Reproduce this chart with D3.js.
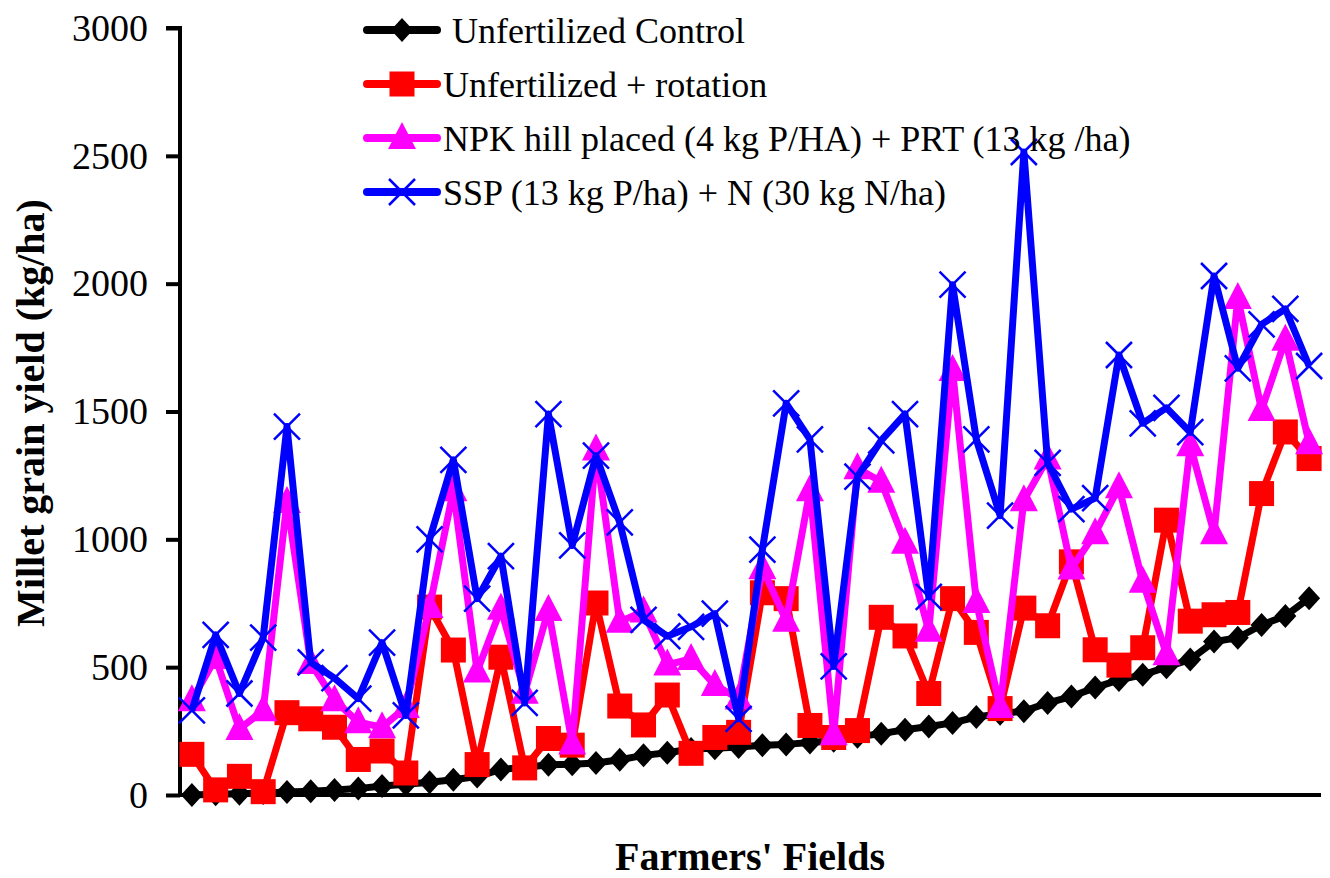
<!DOCTYPE html>
<html>
<head>
<meta charset="utf-8">
<script src="https://cdn.jsdelivr.net/npm/d3@7"></script>
<style>
  html, body { margin: 0; padding: 0; background: #fff; }
  svg { display: block; }
  text { font-family: "Liberation Serif", "Times New Roman", serif; fill: #000; }
</style>
</head>
<body>
<svg id="chart" width="1330" height="878"></svg>
<script>
// Millet grain yield (kg/ha) on 48 farmers' fields, four treatments
const fields = d3.range(1, 49);

const control = [0, 3, 5, 8, 12, 15, 20, 25, 35, 42, 50, 60, 72, 100, 108, 118, 120, 125, 138, 155,
  165, 180, 183, 188, 195, 198, 205, 212, 228, 240, 255, 268, 282, 305, 318, 328, 360, 385, 420, 450,
  470, 500, 530, 600, 615, 665, 700, 770];

const rotation = [159, 20, 73, 13, 322, 298, 265, 139, 172, 86, 735, 567, 119, 539, 106, 221, 195, 751, 348, 274,
  391, 163, 225, 245, 791, 768, 272, 225, 252, 695, 622, 397, 768, 636, 338, 731, 662, 912, 568, 508,
  576, 1075, 680, 705, 714, 1179, 1420, 1316];

const npkPrt = [371, 536, 258, 331, 1146, 516, 371, 285, 265, 344, 735, 1192, 483, 728, 400, 724, 201, 1351, 678, 718,
  510, 532, 430, 377, 887, 682, 1192, 238, 1278, 1225, 987, 642, 1662, 755, 344, 1153, 1316, 886, 1024, 1204,
  834, 551, 1368, 1024, 1944, 1506, 1781, 1376];

const sspN = [331, 626, 397, 616, 1441, 519, 457, 377, 596, 311, 1000, 1311, 768, 934, 360, 1490, 976, 1327, 1066, 685,
  621, 658, 709, 298, 960, 1532, 1391, 503, 1245, 1387, 1490, 775, 1996, 1391, 1093, 2515, 1299, 1118, 1161, 1721,
  1454, 1514, 1419, 2030, 1669, 1841, 1901, 1678];

const seriesNames = [
  "\u00a0Unfertilized Control",
  "Unfertilized + rotation",
  "NPK hill placed (4 kg P/HA) + PRT (13 kg /ha)",
  "SSP (13 kg P/ha) + N (30 kg N/ha)"
];
const seriesColors = ["#000000", "#ff0000", "#ff00ff", "#0000ff"];
const seriesMarkers = ["diamond", "square", "triangle", "cross"];
const yTicks = [0, 500, 1000, 1500, 2000, 2500, 3000];

const series = [control, rotation, npkPrt, sspN].map((values, k) => ({
  name: seriesNames[k], color: seriesColors[k], marker: seriesMarkers[k], values
}));

const svg = d3.select("#chart");
const plot = { left: 180, right: 1321, top: 28, bottom: 795 };

const x = d3.scalePoint().domain(fields).range([plot.left, plot.right]).padding(0.5);
const y = d3.scaleLinear().domain([0, 3000]).range([plot.bottom, plot.top]);

// marker drawing
function drawMarker(g, type, color) {
  if (type === "diamond") {
    g.append("path").attr("d", "M0,-12L11,0L0,12L-11,0Z").attr("fill", color);
  } else if (type === "square") {
    g.append("rect").attr("x", -12.5).attr("y", -12.5).attr("width", 25).attr("height", 25).attr("fill", color);
  } else if (type === "triangle") {
    g.append("path").attr("d", "M0,-16L14,11L-14,11Z").attr("fill", color);
  } else if (type === "cross") {
    g.append("path").attr("d", "M-13,-13L13,13M-13,13L13,-13")
      .attr("stroke", color).attr("stroke-width", 2.5).attr("fill", "none");
  }
}

// y axis
const yAxis = d3.axisLeft(y).tickValues(yTicks).tickSize(14).tickPadding(18).tickFormat(d3.format("d"));
const yAxisG = svg.append("g").attr("transform", `translate(${plot.left},0)`).call(yAxis);
yAxisG.select(".domain").attr("stroke", "#000").attr("stroke-width", 4)
  .attr("d", `M-14,${plot.top}H0V${plot.bottom}`);
yAxisG.selectAll(".tick line").attr("stroke", "#000").attr("stroke-width", 4);
yAxisG.selectAll(".tick text").attr("font-size", 38)
  .attr("font-family", "Liberation Serif, Times New Roman, serif").attr("fill", "#000");

// x axis line (no ticks)
svg.append("line")
  .attr("x1", plot.left).attr("x2", plot.right)
  .attr("y1", y(0)).attr("y2", y(0))
  .attr("stroke", "#000").attr("stroke-width", 4);

// series lines and markers
const line = d3.line().x((d, i) => x(fields[i])).y(d => y(d));
series.forEach(s => {
  const g = svg.append("g");
  g.append("path").datum(s.values)
    .attr("d", line)
    .attr("fill", "none")
    .attr("stroke", s.color)
    .attr("stroke-width", 7)
    .attr("stroke-linejoin", "round");
  s.values.forEach((v, i) => {
    const m = g.append("g").attr("transform", `translate(${x(fields[i])},${y(v)})`);
    drawMarker(m, s.marker, s.color);
  });
});

// legend
const legend = svg.append("g").attr("transform", "translate(367,30)");
series.forEach((s, k) => {
  const row = legend.append("g").attr("transform", `translate(0,${k * 54})`);
  row.append("line").attr("x1", 0).attr("x2", 70).attr("y1", 0).attr("y2", 0)
    .attr("stroke", s.color).attr("stroke-width", 8).attr("stroke-linecap", "round");
  const m = row.append("g").attr("transform", "translate(35,0)");
  drawMarker(m, s.marker, s.color);
  row.append("text").attr("x", 76).attr("y", 0).attr("dy", "0.35em")
    .attr("font-size", 36).text(s.name);
});

// axis titles
svg.append("text")
  .attr("transform", "translate(44,413) rotate(-90)")
  .attr("text-anchor", "middle")
  .attr("font-size", 40).attr("font-weight", "bold")
  .text("Millet grain yield (kg/ha)");

svg.append("text")
  .attr("x", 750).attr("y", 870)
  .attr("text-anchor", "middle")
  .attr("font-size", 40).attr("font-weight", "bold")
  .text("Farmers' Fields");
</script>
</body>
</html>
